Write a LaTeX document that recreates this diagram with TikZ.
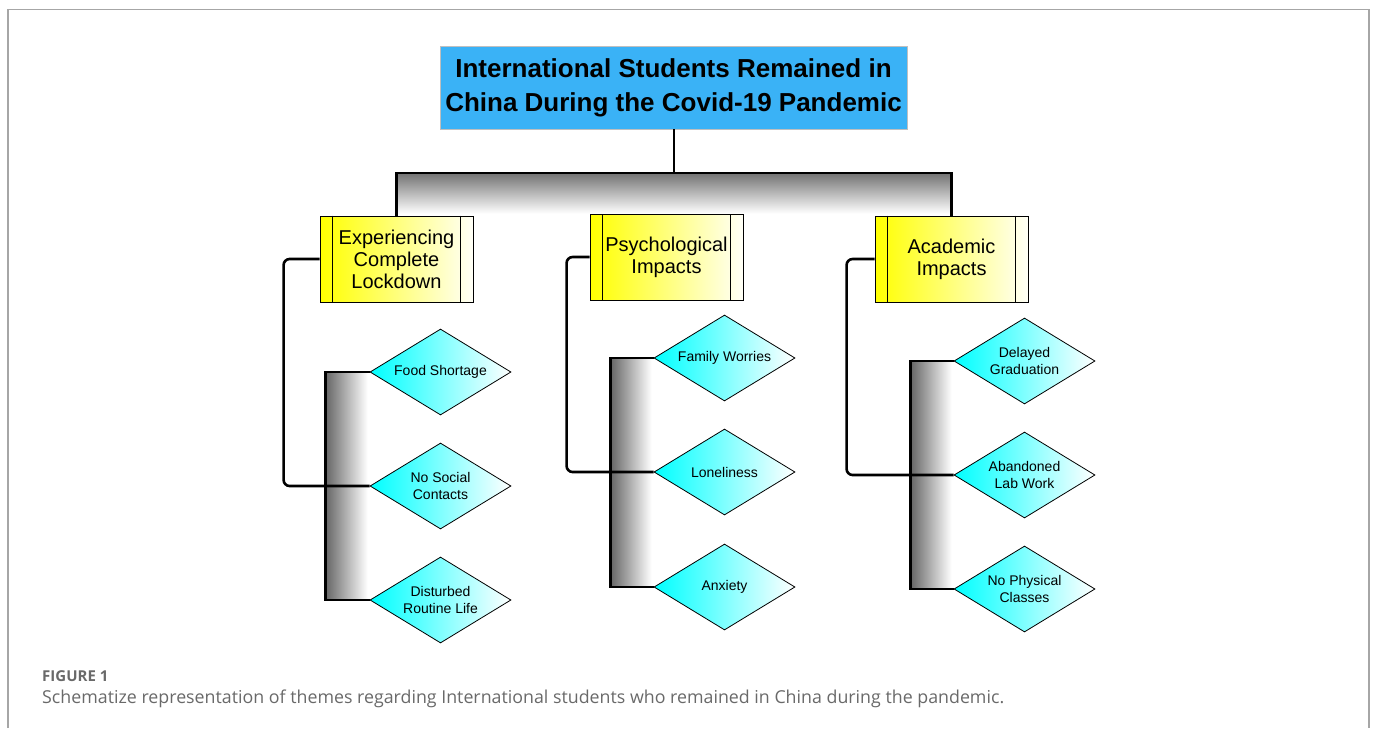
\documentclass[tikz,border=0pt]{standalone}
\usepackage{fontspec}
\setmainfont{Liberation Sans}
\newfontfamily\capfont{Open Sans}
\usepackage{tikz}
\usetikzlibrary{shapes.geometric}
\definecolor{titleblue}{RGB}{58,178,246}
\definecolor{capgray}{RGB}{105,105,105}

\begin{document}
\begin{tikzpicture}[x=1pt, y=-1pt,
        theme/.style={rectangle, draw=black, line width=0.8pt, minimum width=153pt, minimum height=86pt, inner sep=0pt, left color=yellow, right color=yellow!3, align=center, font=\fontsize{20}{22}\selectfont},
        issue/.style={diamond, draw=black, line width=0.8pt, minimum width=141pt, minimum height=86pt, shape aspect=1.64, inner sep=0pt, left color=cyan, right color=white, align=center, font=\fontsize{14}{16.5}\selectfont},
        wire/.style={line width=2.6pt},
        elbow/.style={line width=2.6pt, rounded corners=6pt}]
        \useasboundingbox (0, 0) rectangle (1375, 728);
        % Frame and caption:
        \draw[gray!70, line width=1.5pt] (8, 728) |- (1369, 9.5) -- (1369, 728);
        \node[anchor=west, inner sep=0pt, text=capgray, font=\capfont\bfseries\fontsize{15}{17}\selectfont](F) at (42, 676){FIGURE 1};
        \node[anchor=west, inner sep=0pt, text=capgray, font=\capfont\fontsize{17.8}{20}\selectfont](C) at (42, 699){Schematize representation of themes regarding International students who remained in China during the pandemic.};
        % Title and themes:
        \node[draw=black!25, fill=titleblue, minimum width=467pt, minimum height=83pt, inner sep=0pt, align=center, font=\bfseries\fontsize{26}{34}\selectfont](T) at (673.5, 87.5){International Students Remained in\\China During the Covid-19 Pandemic};
        \node[theme](N1) at (396.5, 259){Experiencing\\Complete\\Lockdown};
        \node[theme](N2) at (666.5, 257){Psychological\\Impacts};
        \node[theme](N3) at (951.5, 259){Academic\\Impacts};
        \foreach \n in {N1, N2, N3} {
            \draw[line width=0.8pt] ([xshift=13pt]\n.north west) -- ([xshift=13pt]\n.south west);
            \draw[line width=0.8pt] ([xshift=-13pt]\n.north east) -- ([xshift=-13pt]\n.south east);
        }
        % Sub-themes:
        \node[issue](D1) at (440.5, 372){Food Shortage};
        \node[issue](D2) at (440.5, 486){No Social\\Contacts};
        \node[issue](D3) at (440.5, 600){Disturbed\\Routine Life};
        \node[issue](D4) at (724.5, 358){Family Worries};
        \node[issue](D5) at (724.5, 472){Loneliness};
        \node[issue](D6) at (724.5, 587){Anxiety};
        \node[issue](D7) at (1024.5, 361){Delayed\\Graduation};
        \node[issue](D8) at (1024.5, 475){Abandoned\\Lab Work};
        \node[issue](D9) at (1024.5, 589){No Physical\\Classes};
        % Bar under the title:
        \coordinate (B) at (673.5, 173);
        \shade[top color=black!55, bottom color=white] (N1.north |- B) rectangle (N3.north |- N2.north);
        \draw[line width=2pt] (T.south) -- (B);
        \draw[wire] (N1.north) |- (B) -| (N3.north);
        % Brackets and wires:
        \shade[left color=black!60, right color=white] ([xshift=-44pt]D1.west) rectangle ([xshift=-2pt]D3.west);
        \shade[left color=black!60, right color=white] ([xshift=-43pt]D4.west) rectangle ([xshift=-2pt]D6.west);
        \shade[left color=black!60, right color=white] ([xshift=-43pt]D7.west) rectangle ([xshift=-2pt]D9.west);
        \draw[wire] (D1.west) -- ++(-44, 0) |- (D3.west);
        \draw[wire] (D4.west) -- ++(-43, 0) |- (D6.west);
        \draw[wire] (D7.west) -- ++(-43, 0) |- (D9.west);
        \draw[elbow] (N1.west) -- ++(-36, 0) |- (D2.west);
        \draw[elbow] (N2.west) -- ++(-23, 0) |- (D5.west);
        \draw[elbow] (N3.west) -- ++(-28, 0) |- (D8.west);
    \end{tikzpicture}
\end{document}
